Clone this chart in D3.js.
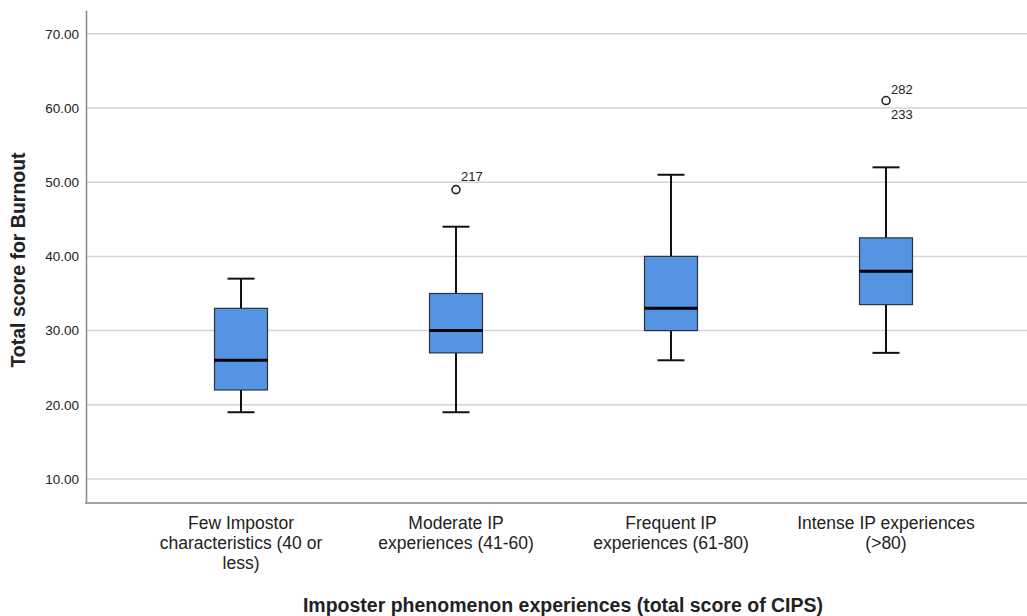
<!DOCTYPE html>
<html>
<head>
<meta charset="utf-8">
<script src="https://cdn.jsdelivr.net/npm/d3@7"></script>
<style>
  body { margin: 0; background: #fff; }
  text { font-family: "Liberation Sans", Arial, sans-serif; fill: #222; }
</style>
</head>
<body>
<svg id="chart" width="1027" height="616"></svg>
<script>
// categories (x axis), one box per group
const categories = [
  ["Few Impostor", "characteristics (40 or", "less)"],
  ["Moderate IP", "experiences (41-60)"],
  ["Frequent IP", "experiences (61-80)"],
  ["Intense IP experiences", "(>80)"]
];
const lowWhisker = [19, 19, 26, 27];
const q1 = [22, 27, 30, 33.5];
const median = [26, 30, 33, 38];
const q3 = [33, 35, 40, 42.5];
const highWhisker = [37, 44, 51, 52];
// outliers: group index, value, case labels
const outliers = [
  { group: 1, value: 49, labels: ["217"] },
  { group: 3, value: 61, labels: ["282", "233"] }
];
const yTicks = [10, 20, 30, 40, 50, 60, 70];

const svg = d3.select("#chart");
const plotLeft = 86, plotRight = 1027, plotTop = 10, plotBottom = 503;

let yScale = d3.scaleLinear()
  .domain([6.77, 73.2])
  .range([plotBottom, plotTop]);

let xScale = d3.scaleBand()
  .domain(d3.range(categories.length))
  .range([133.5, 993.5]);

const boxW = 53, capW = 27;

// gridlines
svg.append("g")
  .selectAll("line")
  .data(yTicks)
  .enter()
  .append("line")
  .attr("x1", plotLeft).attr("x2", plotRight)
  .attr("y1", d => yScale(d)).attr("y2", d => yScale(d))
  .attr("stroke", "#d4d4d4")
  .attr("stroke-width", 1.5);

// y axis with tick labels
const yAxis = svg.append("g")
  .attr("transform", `translate(${plotLeft},0)`)
  .call(d3.axisLeft(yScale).tickValues(yTicks).tickSize(0).tickPadding(7).tickFormat(d3.format(".2f")));
yAxis.select(".domain").attr("stroke", "#888").attr("stroke-width", 1.5);
yAxis.selectAll("text").style("font-size", "13.5px").attr("fill", "#222");

// x axis line
svg.append("line")
  .attr("x1", plotLeft - 0.75).attr("x2", plotRight)
  .attr("y1", plotBottom).attr("y2", plotBottom)
  .attr("stroke", "#888").attr("stroke-width", 1.5);

const groups = svg.selectAll(".box")
  .data(categories.map((c, i) => i))
  .enter()
  .append("g")
  .attr("class", "box")
  .attr("transform", i => `translate(${xScale(i) + xScale.bandwidth() / 2},0)`);

// whisker stems
groups.append("line")
  .attr("y1", i => yScale(lowWhisker[i])).attr("y2", i => yScale(q1[i]))
  .attr("stroke", "#111").attr("stroke-width", 2);
groups.append("line")
  .attr("y1", i => yScale(q3[i])).attr("y2", i => yScale(highWhisker[i]))
  .attr("stroke", "#111").attr("stroke-width", 2);
// caps
groups.append("line")
  .attr("x1", -capW / 2).attr("x2", capW / 2)
  .attr("y1", i => yScale(lowWhisker[i])).attr("y2", i => yScale(lowWhisker[i]))
  .attr("stroke", "#111").attr("stroke-width", 2);
groups.append("line")
  .attr("x1", -capW / 2).attr("x2", capW / 2)
  .attr("y1", i => yScale(highWhisker[i])).attr("y2", i => yScale(highWhisker[i]))
  .attr("stroke", "#111").attr("stroke-width", 2);
// box
groups.append("rect")
  .attr("x", -boxW / 2).attr("width", boxW)
  .attr("y", i => yScale(q3[i]))
  .attr("height", i => yScale(q1[i]) - yScale(q3[i]))
  .attr("fill", "#5593e3")
  .attr("stroke", "#2b3340").attr("stroke-width", 1.2);
// median
groups.append("line")
  .attr("x1", -boxW / 2).attr("x2", boxW / 2)
  .attr("y1", i => yScale(median[i])).attr("y2", i => yScale(median[i]))
  .attr("stroke", "#000").attr("stroke-width", 3);

// outliers
outliers.forEach(o => {
  const cx = xScale(o.group) + xScale.bandwidth() / 2;
  const cy = yScale(o.value);
  svg.append("circle")
    .attr("cx", cx).attr("cy", cy).attr("r", 4)
    .attr("fill", "#fff").attr("stroke", "#222").attr("stroke-width", 1.6);
  o.labels.forEach((lab, k) => {
    svg.append("text")
      .attr("x", cx + 5)
      .attr("y", o.labels.length === 1 ? cy - 9 : (k === 0 ? cy - 7 : cy + 18))
      .style("font-size", "13px")
      .text(lab);
  });
});

// category labels
groups.append("text")
  .attr("text-anchor", "middle")
  .style("font-size", "17.5px")
  .attr("fill", "#222")
  .selectAll("tspan")
  .data(i => categories[i])
  .enter()
  .append("tspan")
  .attr("x", 0)
  .attr("y", (d, k) => 529 + k * 20)
  .text(d => d);

// axis titles
svg.append("text")
  .attr("x", 563).attr("y", 612)
  .attr("text-anchor", "middle")
  .style("font-size", "19.5px").style("font-weight", "bold")
  .attr("fill", "#111")
  .text("Imposter phenomenon experiences (total score of CIPS)");

svg.append("text")
  .attr("transform", "translate(25,260) rotate(-90)")
  .attr("text-anchor", "middle")
  .style("font-size", "19.5px").style("font-weight", "bold")
  .attr("fill", "#111")
  .text("Total score for Burnout");
</script>
</body>
</html>
